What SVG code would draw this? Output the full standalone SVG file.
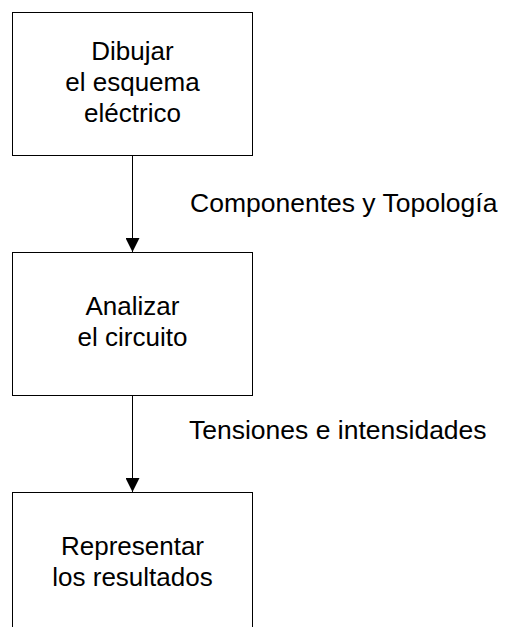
<svg xmlns="http://www.w3.org/2000/svg" width="505" height="627" viewBox="0 0 505 627">
<defs>
<style>
.box{fill:#fff;stroke:#000;stroke-width:1}
.t{font-family:"Liberation Sans",Arial,sans-serif;font-size:26px;fill:#000}
.lbl{font-size:26.5px}
.c{text-anchor:middle}
.line{stroke:#000;stroke-width:1;fill:none}
</style>
<marker id="arr" viewBox="0 0 14 14" refX="14" refY="7" markerWidth="14" markerHeight="14" markerUnits="userSpaceOnUse" orient="auto">
<path d="M0,0 L14,7 L0,14 Z" fill="#000"/>
</marker>
</defs>
<rect width="505" height="627" fill="#fff"/>
<g id="node1">
<rect class="box" x="12.5" y="12.5" width="240" height="143"/>
<text class="t c" x="132.5" y="60">Dibujar</text>
<text class="t c" x="132.5" y="91">el esquema</text>
<text class="t c" x="132.5" y="122">eléctrico</text>
</g>
<g id="node2">
<rect class="box" x="12.5" y="252.5" width="240" height="143"/>
<text class="t c" x="132.5" y="315">Analizar</text>
<text class="t c" x="132.5" y="346">el circuito</text>
</g>
<g id="node3">
<rect class="box" x="12.5" y="492.5" width="240" height="150"/>
<text class="t c" x="132.5" y="555">Representar</text>
<text class="t c" x="132.5" y="586">los resultados</text>
</g>
<g id="connectors">
<line class="line" x1="132.5" y1="155.5" x2="132.5" y2="252" marker-end="url(#arr)"/>
<text class="t lbl" x="190" y="212">Componentes y Topología</text>
<line class="line" x1="132.5" y1="395.5" x2="132.5" y2="492" marker-end="url(#arr)"/>
<text class="t lbl" x="189" y="439">Tensiones e intensidades</text>
</g>
</svg>
